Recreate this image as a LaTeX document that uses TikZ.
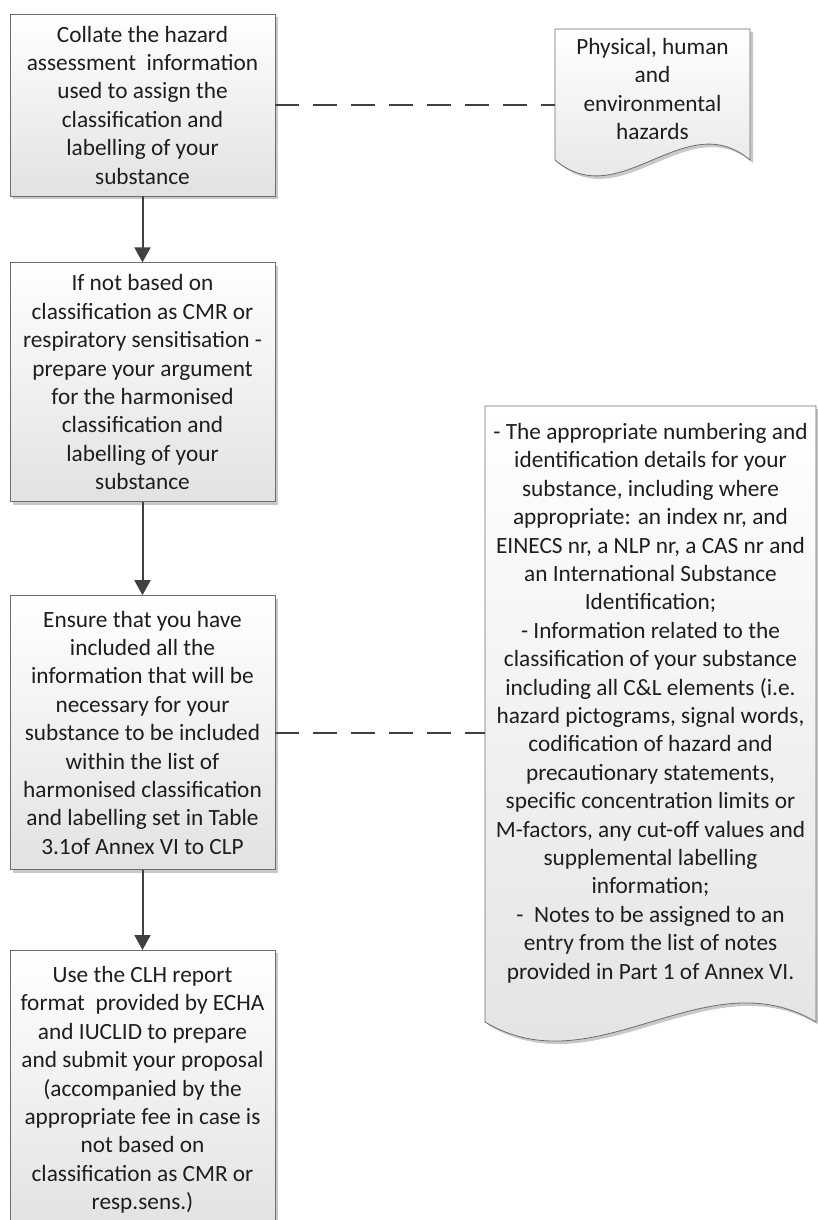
\documentclass[tikz,border=0pt]{standalone}
\usepackage{fontspec}
\setmainfont{Carlito}
\usetikzlibrary{arrows.meta, positioning, shadows}
\definecolor{clhline}{HTML}{404040}
\definecolor{clhborder}{HTML}{6e6e6e}
\definecolor{clhfill}{HTML}{e2e2e2}
\definecolor{clhshadow}{HTML}{c9c9c9}
\definecolor{clhtext}{HTML}{1e1e1e}

% outline of a document shape: left, top, right, middle of the wavy bottom, wave depth
\newcommand{\docoutline}[5]{(#1,#2) -- (#3,#2) -- (#3,#4)
  .. controls ({(#1+2*#3)/3},{#4-#5}) and ({(2*#1+#3)/3},{#4+#5}) .. (#1,#4) -- cycle}

\begin{document}
\begin{tikzpicture}[
  x=1pt, y=-1pt,
  every node/.style={font=\fontsize{23.3}{28.4}\selectfont, text=clhtext, align=center},
  process box/.style={draw=clhborder, line width=0.8pt, top color=white, bottom color=clhfill,
    minimum width=265pt, inner sep=0pt,
    drop shadow={shadow xshift=3pt, shadow yshift=-3pt, fill=clhshadow, opacity=1}},
  doc shape/.style={draw=clhborder, line width=0.8pt, top color=white, bottom color=clhfill,
    drop shadow={shadow xshift=3pt, shadow yshift=-3pt, fill=clhshadow, opacity=1}},
  doc text/.style={inner sep=0pt},
  flow arrow/.style={draw=clhline, line width=2pt, -{Triangle[width=16pt, length=15pt]}},
  link line/.style={draw=clhline, line width=2pt, dash pattern=on 24pt off 14pt}
]
\useasboundingbox (0,0) rectangle (818,1220);

% document shapes
\path[doc shape] \docoutline{555}{29}{750}{160}{55};
\path[doc shape] \docoutline{485}{406}{816}{1022}{66};

% main flow
\node[process box, minimum height=182pt] (collate) at (142.5,105)
  {Collate the hazard\\ assessment\ \ information\\ used to assign the\\ classification and\\ labelling of your\\ substance};
\node[process box, minimum height=239pt, below=66pt of collate] (argument)
  {If not based on\\ classification as CMR or\\ respiratory sensitisation -\\ prepare your argument\\ for the harmonised\\ classification and\\ labelling of your\\ substance};
\node[process box, minimum height=274pt, below=93pt of argument] (ensure)
  {Ensure that you have\\ included all the\\ information that will be\\ necessary for your\\ substance to be included\\ within the list of\\ harmonised classification\\ and labelling set in Table\\ 3.1of Annex VI to CLP};
\node[process box, minimum height=279pt, below=80pt of ensure] (report)
  {Use the CLH report\\ format\ \ provided by ECHA\\ and IUCLID to prepare\\ and submit your proposal\\ (accompanied by the\\ appropriate fee in case is\\ not based on\\ classification as CMR or\\ resp.sens.)};

% document texts
\node[doc text, minimum width=195pt] (hazards) at (652.5,89)
  {Physical, human\\ and\\ environmental\\ hazards};
\node[doc text, minimum width=331pt] (details) at (650.5,703)
  {- The appropriate numbering and\\ identification details for your\\ substance, including where\\
   appropriate: an index nr, and\\ EINECS nr, a NLP nr, a CAS nr and\\ an International Substance\\
   Identification;\\ - Information related to the\\ classification of your substance\\
   including all C\&L elements (i.e.\\ hazard pictograms, signal words,\\ codification of hazard and\\
   precautionary statements,\\ specific concentration limits or\\ M-factors, any cut-off values and\\
   supplemental labelling\\ information;\\ -\ \ Notes to be assigned to an\\
   entry from the list of notes\\ provided in Part 1 of Annex VI.};

% connectors
\draw[flow arrow] (collate) -- (argument);
\draw[flow arrow] (argument) -- (ensure);
\draw[flow arrow] (ensure) -- (report);
\draw[link line] (collate.east) -- (collate.east -| hazards.west);
\draw[link line] (ensure.east) -- (ensure.east -| details.west);
\end{tikzpicture}
\end{document}
